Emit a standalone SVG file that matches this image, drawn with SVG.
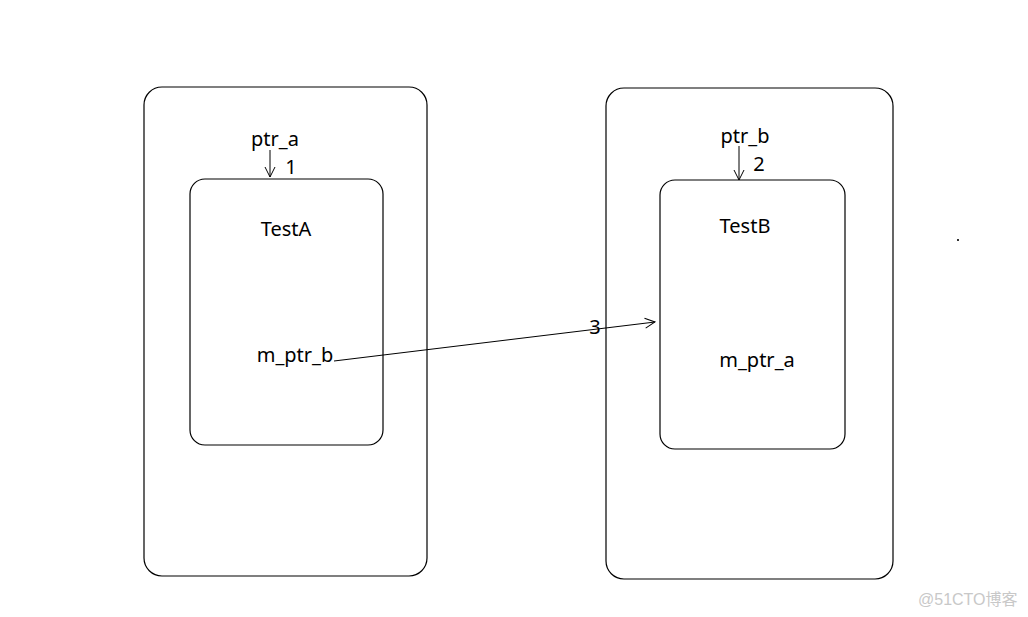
<svg xmlns="http://www.w3.org/2000/svg" width="1028" height="617" viewBox="0 0 1028 617">
<defs>
<style>
.box{fill:none;stroke:#000;stroke-width:1.2}
.t{font-family:"Noto Sans","Liberation Sans",sans-serif;font-size:20px;fill:#000}
.c{stroke:#000;stroke-width:1;fill:none}
.wm{font-family:"Liberation Sans","Noto Sans CJK SC",sans-serif;font-size:16px;fill:#c8c8c8}
</style>
<marker id="ah" viewBox="0 0 12 12" refX="11" refY="6" markerWidth="12" markerHeight="12" markerUnits="userSpaceOnUse" orient="auto">
<path d="M1,1 L11,6 L1,11" fill="none" stroke="#000" stroke-width="1"/>
</marker>
</defs>
<rect width="1028" height="617" fill="#fff"/>
<g id="outerA"><rect class="box" x="144" y="87" width="283" height="489" rx="18"/></g>
<g id="outerB"><rect class="box" x="606" y="88" width="287" height="491" rx="18"/></g>
<g id="ptr_a"><text class="t" x="275" y="146" text-anchor="middle">ptr_a</text></g>
<g id="ptr_b"><text class="t" x="745" y="143" text-anchor="middle">ptr_b</text></g>
<g id="TestA">
<rect class="box" x="190" y="179" width="193" height="266" rx="15"/>
<text class="t" x="286" y="236" text-anchor="middle">TestA</text>
<text class="t" x="295" y="362" text-anchor="middle">m_ptr_b</text>
</g>
<g id="TestB">
<rect class="box" x="660" y="180" width="185" height="269" rx="15"/>
<text class="t" x="745" y="233" text-anchor="middle">TestB</text>
<text class="t" x="757" y="367" text-anchor="middle">m_ptr_a</text>
</g>
<g id="connectors">
<line class="c" x1="270" y1="150" x2="270" y2="177" marker-end="url(#ah)"/>
<text class="t" x="291" y="174" text-anchor="middle">1</text>
<line class="c" x1="739" y1="146" x2="739" y2="180" marker-end="url(#ah)"/>
<text class="t" x="759" y="171" text-anchor="middle">2</text>
<line class="c" x1="334" y1="361" x2="655" y2="322" marker-end="url(#ah)"/>
<text class="t" x="595" y="334" text-anchor="middle">3</text>
</g>
<rect x="957" y="239" width="2" height="2" fill="#333"/>
<text class="wm" x="918" y="605">@51CTO博客</text>
</svg>
